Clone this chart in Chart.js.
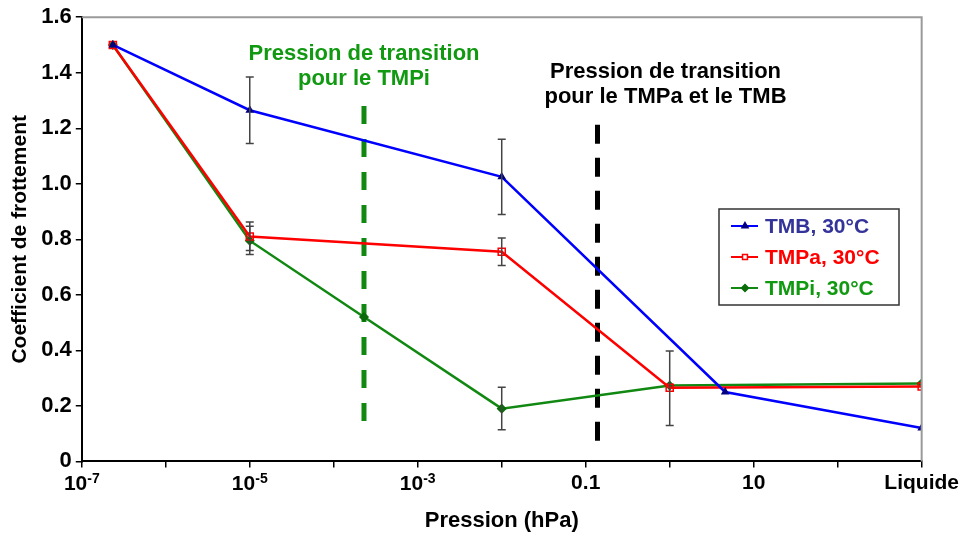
<!DOCTYPE html>
<html>
<head>
<meta charset="utf-8">
<script src="https://cdn.jsdelivr.net/npm/chart.js@4"></script>
<style>
  html, body { margin: 0; padding: 0; background: #fff; }
  #wrap { width: 962px; height: 536px; }
</style>
</head>
<body>
<div id="wrap"><canvas id="chart" width="962" height="536"></canvas></div>
<script>
// x positions are log10(pression en hPa); 3 stands for "Liquide"
const xTickLabels = { '-7': '10-7', '-5': '10-5', '-3': '10-3', '-1': '0.1', '1': '10', '3': 'Liquide' };
const xPowerTicks = { '-7': '-7', '-5': '-5', '-3': '-3' };

const tmbX = [-6.63, -5, -2, 0.66, 3];
const tmbY = [1.5, 1.265, 1.025, 0.25, 0.12];
const tmbErrLow = [null, 1.145, 0.889, null, null];
const tmbErrHigh = [null, 1.385, 1.16, null, null];

const tmpaX = [-6.63, -5, -2, 0, 3];
const tmpaY = [1.5, 0.81, 0.755, 0.265, 0.27];
const tmpaErrLow = [null, 0.76, 0.706, 0.129, null];
const tmpaErrHigh = [null, 0.862, 0.805, 0.398, null];

const tmpiX = [-6.63, -5, -3.64, -2, 0, 3];
const tmpiY = [1.5, 0.795, 0.52, 0.19, 0.273, 0.281];
const tmpiErrLow = [null, 0.745, null, 0.114, null, null];
const tmpiErrHigh = [null, 0.847, null, 0.267, null, null];

// transition pressures (dashed verticals)
const transTmpiX = -3.64;
const transTmpiY = [1.28, 0.11];
const transTmbX = -0.86;
const transTmbY = [1.213, 0.043];

const FONT = "'Liberation Sans', Arial, sans-serif";

function pts(xs, ys) {
  return xs.map((x, i) => ({ x, y: ys[i] }));
}

const series = [
  { label: 'TMB, 30°C', x: tmbX, y: tmbY, lo: tmbErrLow, hi: tmbErrHigh, line: '#0000ff', text: '#333399',
    style: 'triangle', fill: '#000080', radius: 3.5 },
  { label: 'TMPa, 30°C', x: tmpaX, y: tmpaY, lo: tmpaErrLow, hi: tmpaErrHigh, line: '#ff0000', text: '#ff0000',
    style: 'rect', fill: 'rgba(255,255,255,0)', radius: 5 },
  { label: 'TMPi, 30°C', x: tmpiX, y: tmpiY, lo: tmpiErrLow, hi: tmpiErrHigh, line: '#118811', text: '#119911',
    style: 'rectRot', fill: '#0b6b0b', radius: 4 }
];

const datasets = series.map(s => ({
  label: s.label,
  data: pts(s.x, s.y),
  borderColor: s.line,
  borderWidth: 2.5,
  pointStyle: s.style,
  pointRadius: s.radius,
  pointBorderWidth: 1.5,
  pointBorderColor: s.style === 'rect' ? s.line : s.fill,
  pointBackgroundColor: s.fill,
  tension: 0,
  order: 1
}));

datasets.push({
  label: 'transition TMPi',
  data: pts([transTmpiX, transTmpiX], transTmpiY),
  borderColor: '#118811',
  borderWidth: 5,
  borderDash: [18, 15],
  pointRadius: 0,
  order: 5
});
datasets.push({
  label: 'transition TMPa TMB',
  data: pts([transTmbX, transTmbX], transTmbY),
  borderColor: '#000000',
  borderWidth: 5,
  borderDash: [19, 14],
  pointRadius: 0,
  order: 5
});

const annotations = [
  { x: transTmpiX, lines: ['Pression de transition', 'pour le TMPi'], color: '#119911', top: 60 },
  { x: -0.05, lines: ['Pression de transition', 'pour le TMPa et le TMB'], color: '#000000', top: 78 }
];

// error bars, top/right frame, annotations, legend and 10^n tick labels
const extrasPlugin = {
  id: 'extras',
  afterDraw(chart) {
    const ctx = chart.ctx;
    const xs = chart.scales.x, ys = chart.scales.y;
    const area = chart.chartArea;

    ctx.save();
    // frame
    ctx.strokeStyle = '#9a9a9a';
    ctx.lineWidth = 2;
    ctx.beginPath();
    ctx.moveTo(area.left, area.top);
    ctx.lineTo(area.right, area.top);
    ctx.lineTo(area.right, area.bottom);
    ctx.stroke();

    // error bars
    ctx.strokeStyle = '#444444';
    ctx.lineWidth = 1.5;
    series.forEach(s => {
      s.x.forEach((xv, i) => {
        if (s.lo[i] == null) return;
        const px = xs.getPixelForValue(xv);
        const y1 = ys.getPixelForValue(s.lo[i]);
        const y2 = ys.getPixelForValue(s.hi[i]);
        ctx.beginPath();
        ctx.moveTo(px, y1); ctx.lineTo(px, y2);
        ctx.moveTo(px - 4, y1); ctx.lineTo(px + 4, y1);
        ctx.moveTo(px - 4, y2); ctx.lineTo(px + 4, y2);
        ctx.stroke();
      });
    });

    // annotations
    ctx.font = 'bold 22px ' + FONT;
    ctx.textAlign = 'center';
    ctx.textBaseline = 'alphabetic';
    annotations.forEach(a => {
      ctx.fillStyle = a.color;
      const px = xs.getPixelForValue(a.x);
      a.lines.forEach((t, i) => ctx.fillText(t, px, a.top + i * 25));
    });

    // 10^n labels with real superscripts
    ctx.textAlign = 'left';
    ctx.fillStyle = '#000';
    const base = area.bottom + 29;
    Object.keys(xPowerTicks).forEach(k => {
      const px = xs.getPixelForValue(Number(k));
      ctx.font = 'bold 21px ' + FONT;
      const w1 = ctx.measureText('10').width;
      ctx.font = 'bold 14px ' + FONT;
      const w2 = ctx.measureText(xPowerTicks[k]).width;
      const x0 = px - (w1 + w2) / 2;
      ctx.font = 'bold 21px ' + FONT;
      ctx.fillText('10', x0, base);
      ctx.font = 'bold 14px ' + FONT;
      ctx.fillText(xPowerTicks[k], x0 + w1, base - 7);
    });

    // legend
    const bx = 719, by = 209, bw = 180, bh = 96;
    ctx.fillStyle = '#ffffff';
    ctx.fillRect(bx, by, bw, bh);
    ctx.strokeStyle = '#333333';
    ctx.lineWidth = 1.5;
    ctx.strokeRect(bx, by, bw, bh);
    ctx.textBaseline = 'middle';
    ctx.font = 'bold 21px ' + FONT;
    series.forEach((s, i) => {
      const cy = by + 17 + i * 31;
      ctx.strokeStyle = s.line;
      ctx.lineWidth = 2;
      ctx.beginPath();
      ctx.moveTo(bx + 12, cy); ctx.lineTo(bx + 39, cy);
      ctx.stroke();
      ctx.fillStyle = s.style === 'rect' ? '#ffffff' : s.fill;
      ctx.strokeStyle = s.style === 'rect' ? s.line : s.fill;
      ctx.lineWidth = 1.5;
      Chart.helpers.drawPoint(ctx, { pointStyle: s.style, radius: 3.5, borderWidth: 1.5, rotation: 0 }, bx + 26, cy);
      ctx.fillStyle = s.text;
      ctx.fillText(s.label, bx + 46, cy + 1);
    });
    ctx.restore();
  }
};

new Chart(document.getElementById('chart'), {
  type: 'line',
  data: { datasets },
  options: {
    responsive: false,
    devicePixelRatio: 1,
    animation: false,
    layout: { padding: { top: 1, right: 4, left: 8, bottom: 2 } },
    plugins: { legend: { display: false }, tooltip: { enabled: false } },
    scales: {
      x: {
        type: 'linear',
        min: -7,
        max: 3,
        border: { color: '#000', width: 2 },
        grid: { drawOnChartArea: false, drawTicks: true, tickLength: 6, color: '#000', lineWidth: 1.5 },
        ticks: {
          stepSize: 1,
          autoSkip: false,
          maxRotation: 0,
          padding: 3,
          color: c => (xPowerTicks[String(c.tick && c.tick.value)] ? 'rgba(0,0,0,0)' : '#000'),
          font: { family: FONT, size: 21, weight: 'bold' },
          callback: v => xTickLabels[String(v)] || ''
        },
        title: {
          display: true,
          text: 'Pression (hPa)',
          color: '#000',
          font: { family: FONT, size: 22, weight: 'bold' },
          padding: { top: 9, bottom: 0 }
        }
      },
      y: {
        min: 0,
        max: 1.6,
        border: { color: '#000', width: 2 },
        grid: { drawOnChartArea: false, drawTicks: true, tickLength: 6, color: '#000', lineWidth: 1.5 },
        ticks: {
          stepSize: 0.2,
          padding: 4,
          color: '#000',
          font: { family: FONT, size: 22, weight: 'bold' },
          callback: v => (Math.abs(v) < 1e-9 ? '0' : v.toFixed(1))
        },
        title: {
          display: true,
          text: 'Coefficient de frottement',
          color: '#000',
          font: { family: FONT, size: 21, weight: 'bold' },
          padding: { top: 0, bottom: 4 }
        }
      }
    }
  },
  plugins: [extrasPlugin]
});
</script>
</body>
</html>
